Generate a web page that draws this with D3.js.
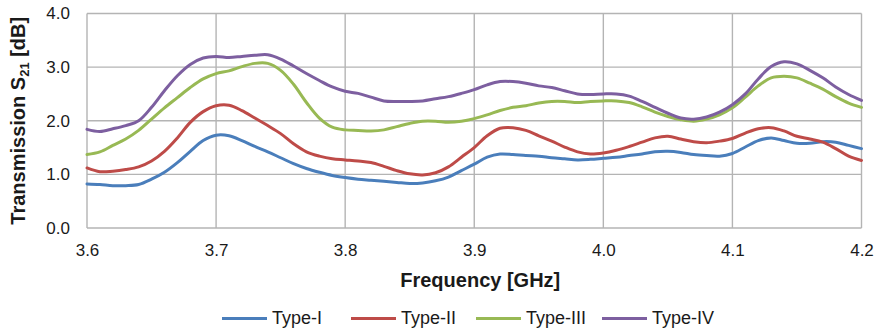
<!DOCTYPE html>
<html>
<head>
<meta charset="utf-8">
<script src="https://cdn.jsdelivr.net/npm/d3@7"></script>
<style>
  html, body { margin: 0; padding: 0; background: #fff; }
  svg { display: block; font-family: "Liberation Sans", Arial, sans-serif; }
</style>
</head>
<body>
<svg id="chart" width="880" height="331"></svg>
<script>
// Frequency samples [GHz]
const frequency = [
  3.60, 3.61, 3.62, 3.63, 3.64, 3.65, 3.66, 3.67, 3.68, 3.69,
  3.70, 3.71, 3.72, 3.73, 3.74, 3.75, 3.76, 3.77, 3.78, 3.79,
  3.80, 3.81, 3.82, 3.83, 3.84, 3.85, 3.86, 3.87, 3.88, 3.89,
  3.90, 3.91, 3.92, 3.93, 3.94, 3.95, 3.96, 3.97, 3.98, 3.99,
  4.00, 4.01, 4.02, 4.03, 4.04, 4.05, 4.06, 4.07, 4.08, 4.09,
  4.10, 4.11, 4.12, 4.13, 4.14, 4.15, 4.16, 4.17, 4.18, 4.19,
  4.20
];

// Transmission S21 [dB] per structure type
const typeI = [
  0.82, 0.81, 0.79, 0.79, 0.81, 0.91, 1.04, 1.22, 1.43, 1.63,
  1.73, 1.72, 1.63, 1.52, 1.42, 1.31, 1.20, 1.11, 1.04, 0.98,
  0.94, 0.91, 0.89, 0.87, 0.85, 0.83, 0.84, 0.88, 0.95, 1.07,
  1.19, 1.32, 1.38, 1.37, 1.35, 1.34, 1.31, 1.29, 1.27, 1.28,
  1.30, 1.32, 1.35, 1.38, 1.42, 1.43, 1.41, 1.37, 1.35, 1.34,
  1.39, 1.51, 1.63, 1.68, 1.63, 1.58, 1.58, 1.61, 1.60, 1.54,
  1.48
];
const typeII = [
  1.12, 1.05, 1.06, 1.09, 1.14, 1.25, 1.43, 1.68, 1.97, 2.17,
  2.28, 2.29, 2.19, 2.05, 1.91, 1.76, 1.57, 1.42, 1.34, 1.29,
  1.27, 1.25, 1.22, 1.15, 1.07, 1.01, 0.99, 1.03, 1.14, 1.32,
  1.50, 1.72, 1.86, 1.87, 1.82, 1.72, 1.62, 1.51, 1.42, 1.38,
  1.40, 1.45, 1.52, 1.60, 1.68, 1.71, 1.66, 1.61, 1.59, 1.62,
  1.67, 1.77, 1.85, 1.87, 1.81, 1.71, 1.66, 1.60, 1.48, 1.34,
  1.26
];
const typeIII = [
  1.37, 1.42, 1.54, 1.66, 1.82, 2.03, 2.24, 2.43, 2.62, 2.78,
  2.88, 2.93, 3.01, 3.07, 3.07, 2.94, 2.68, 2.34, 2.05, 1.88,
  1.83, 1.82, 1.81, 1.83, 1.89, 1.95, 1.99, 1.99, 1.97, 1.99,
  2.04, 2.11, 2.19, 2.25, 2.28, 2.33, 2.36, 2.36, 2.34, 2.36,
  2.37, 2.37, 2.34, 2.26, 2.16, 2.08, 2.02, 1.99, 2.03, 2.11,
  2.24, 2.44, 2.65, 2.80, 2.83, 2.80, 2.70, 2.59, 2.45, 2.33,
  2.25
];
const typeIV = [
  1.84, 1.80, 1.85, 1.91, 2.00, 2.25, 2.56, 2.84, 3.05, 3.17,
  3.20, 3.18, 3.20, 3.22, 3.23, 3.15, 3.02, 2.88, 2.75, 2.63,
  2.55, 2.51, 2.44, 2.37, 2.36, 2.36, 2.37, 2.41, 2.45, 2.51,
  2.58, 2.67, 2.73, 2.73, 2.70, 2.65, 2.62, 2.56, 2.50, 2.49,
  2.50, 2.50, 2.46, 2.36, 2.25, 2.14, 2.05, 2.03, 2.07, 2.16,
  2.30, 2.50, 2.78, 3.01, 3.10, 3.06, 2.94, 2.80, 2.63, 2.49,
  2.38
];

const seriesNames = ["Type-I", "Type-II", "Type-III", "Type-IV"];
const seriesColors = ["#4a7ebb", "#be4b48", "#98b954", "#7d5fa0"];
const seriesValues = [typeI, typeII, typeIII, typeIV];

const xTicks = [3.6, 3.7, 3.8, 3.9, 4.0, 4.1, 4.2];
const yTicks = [0, 1, 2, 3, 4];

const svg = d3.select("#chart");
const plot = { left: 87, right: 861.5, top: 13.5, bottom: 228 };

const x = d3.scaleLinear().domain([3.6, 4.2]).range([plot.left, plot.right]);
const y = d3.scaleLinear().domain([0, 4]).range([plot.bottom, plot.top]);

const gridColor = "#b4b4b4";
const textColor = "#1a1a1a";

// Grid
const grid = svg.append("g");
grid.selectAll("line.h").data(yTicks).join("line")
  .attr("x1", plot.left).attr("x2", plot.right)
  .attr("y1", d => y(d)).attr("y2", d => y(d))
  .attr("stroke", gridColor).attr("stroke-width", 1.4);
grid.selectAll("line.v").data(xTicks).join("line")
  .attr("y1", plot.top).attr("y2", plot.bottom)
  .attr("x1", d => x(d)).attr("x2", d => x(d))
  .attr("stroke", gridColor).attr("stroke-width", 1.4);

// Axes (labels only; the grid forms the frame)
const yAxis = d3.axisLeft(y).tickValues(yTicks).tickFormat(d3.format(".1f")).tickSize(0).tickPadding(17);
svg.append("g").attr("transform", `translate(${plot.left},0)`).call(yAxis)
  .call(g => g.select(".domain").remove())
  .selectAll("text").attr("font-size", 17).attr("fill", textColor)
  .attr("font-family", "Liberation Sans, Arial, sans-serif");

const xAxis = d3.axisBottom(x).tickValues(xTicks).tickFormat(d3.format(".1f")).tickSize(0).tickPadding(16);
svg.append("g").attr("transform", `translate(0,${plot.bottom})`).call(xAxis)
  .call(g => g.select(".domain").remove())
  .selectAll("text").attr("font-size", 17).attr("fill", textColor)
  .attr("font-family", "Liberation Sans, Arial, sans-serif");

// Axis titles
svg.append("text")
  .attr("x", (plot.left + plot.right) / 2 + 6).attr("y", 287)
  .attr("text-anchor", "middle").attr("font-size", 20).attr("font-weight", "bold")
  .attr("fill", textColor).text("Frequency [GHz]");

const yTitle = svg.append("text")
  .attr("transform", `translate(25,${(plot.top + plot.bottom) / 2}) rotate(-90)`)
  .attr("text-anchor", "middle").attr("font-size", 20).attr("font-weight", "bold")
  .attr("fill", textColor);
yTitle.append("tspan").text("Transmission S");
yTitle.append("tspan").attr("font-size", 13).attr("dy", 4).text("21");
yTitle.append("tspan").attr("dy", -4).text(" [dB]");

// Series lines
const line = d3.line()
  .x((d, i) => x(frequency[i]))
  .y(d => y(d))
  .curve(d3.curveCatmullRom.alpha(0.5));

svg.append("g").selectAll("path").data(seriesValues).join("path")
  .attr("d", d => line(d))
  .attr("fill", "none")
  .attr("stroke", (d, i) => seriesColors[i])
  .attr("stroke-width", 3)
  .attr("stroke-linejoin", "round")
  .attr("stroke-linecap", "round");

// Legend
const legendX = [222, 351, 476, 602];
const legend = svg.append("g").selectAll("g").data(seriesNames).join("g")
  .attr("transform", (d, i) => `translate(${legendX[i]},318.5)`);
legend.append("line")
  .attr("x1", 0).attr("x2", 45).attr("y1", 0).attr("y2", 0)
  .attr("stroke", (d, i) => seriesColors[i]).attr("stroke-width", 3);
legend.append("text")
  .attr("x", 50).attr("y", 5)
  .attr("font-size", 18).attr("fill", textColor)
  .text(d => d);
</script>
</body>
</html>
